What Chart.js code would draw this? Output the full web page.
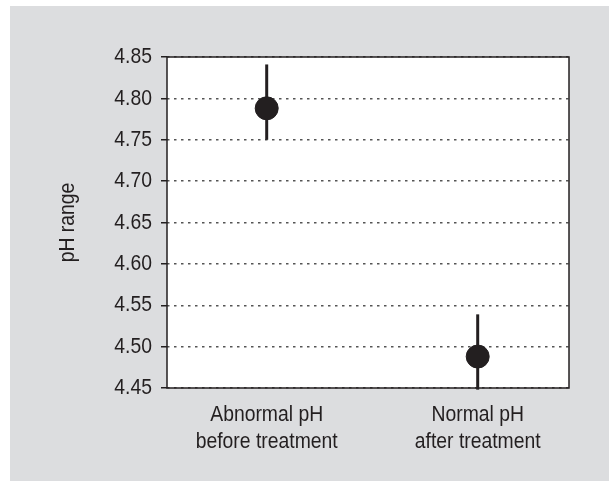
<!DOCTYPE html>
<html>
<head>
<meta charset="utf-8">
<script src="https://cdn.jsdelivr.net/npm/chart.js@4/dist/chart.umd.min.js"></script>
<style>
  html, body { margin: 0; padding: 0; background: #ffffff; }
  #wrap { position: absolute; left: 10px; top: 6px; width: 599px; height: 475px; background: #dcdddf; }
  canvas { display: block; }
</style>
</head>
<body>
<div id="wrap"><canvas id="c" width="599" height="475"></canvas></div>
<script>
// ---- data ----
const categories = [["Abnormal pH", "before treatment"], ["Normal pH", "after treatment"]];
const categoryIndex = [0, 1];
const meanPH = [4.788, 4.488];
const errLow = [4.750, 4.448];
const errHigh = [4.841, 4.539];
const yTicks = [4.45, 4.50, 4.55, 4.60, 4.65, 4.70, 4.75, 4.80, 4.85];
const yTitle = "pH range";

const INK = "#231f20";
const FONT = "'Liberation Sans', Arial, sans-serif";
const FONT_SIZE = 22.5;
const NARROW = 0.86; // horizontal condensing of text, to mimic a narrow sans face

const canvas = document.getElementById("c");
const ctx2d = canvas.getContext("2d");
// condensed text rendering: scale glyphs horizontally around their anchor
const origFill = ctx2d.fillText.bind(ctx2d);
const origMeasure = ctx2d.measureText.bind(ctx2d);
ctx2d.fillText = function (text, x, y, maxWidth) {
  this.save();
  this.translate(x, y);
  this.scale(NARROW, 1);
  if (maxWidth !== undefined) origFill(text, 0, 0, maxWidth / NARROW);
  else origFill(text, 0, 0);
  this.restore();
};
ctx2d.measureText = function (text) {
  const m = origMeasure(text);
  return {
    width: m.width * NARROW,
    actualBoundingBoxAscent: m.actualBoundingBoxAscent,
    actualBoundingBoxDescent: m.actualBoundingBoxDescent,
    actualBoundingBoxLeft: m.actualBoundingBoxLeft * NARROW,
    actualBoundingBoxRight: m.actualBoundingBoxRight * NARROW
  };
};

const errorBarPlugin = {
  id: "errorBars",
  beforeDatasetsDraw(chart) {
    const { ctx, scales: { x, y } } = chart;
    ctx.save();
    ctx.strokeStyle = INK;
    ctx.lineWidth = 3;
    categoryIndex.forEach((ci, i) => {
      const px = x.getPixelForValue(ci);
      ctx.beginPath();
      ctx.moveTo(px, y.getPixelForValue(errLow[i]));
      ctx.lineTo(px, y.getPixelForValue(errHigh[i]));
      ctx.stroke();
    });
    ctx.restore();
  }
};

const framePlugin = {
  id: "frame",
  beforeDraw(chart) {
    const { ctx, chartArea: a } = chart;
    ctx.save();
    ctx.fillStyle = "#ffffff";
    ctx.fillRect(a.left, a.top, a.right - a.left, a.bottom - a.top);
    ctx.restore();
  },
  afterDatasetsDraw(chart) {
    const { ctx, chartArea: a } = chart;
    ctx.save();
    ctx.strokeStyle = INK;
    ctx.lineWidth = 1.5;
    ctx.strokeRect(a.left, a.top, a.right - a.left, a.bottom - a.top);
    ctx.restore();
  }
};

new Chart(ctx2d, {
  type: "scatter",
  data: {
    datasets: [{
      data: categoryIndex.map((ci, i) => ({ x: ci, y: meanPH[i] })),
      backgroundColor: INK,
      borderColor: INK,
      pointRadius: 11.5,
      pointHoverRadius: 11.5
    }]
  },
  options: {
    responsive: false,
    animation: false,
    events: [],
    layout: { padding: { left: 40, top: 51, right: 40, bottom: 0 } },
    plugins: { legend: { display: false }, tooltip: { enabled: false } },
    scales: {
      x: {
        type: "linear",
        min: -0.4725,
        max: 1.4327,
        afterBuildTicks(s) { s.ticks = categoryIndex.map(v => ({ value: v })); },
        afterFit(s) { s.height = 93; s.paddingLeft = 0; s.paddingRight = 0; },
        grid: { display: false, drawTicks: false },
        border: { display: false },
        ticks: {
          padding: 14,
          color: INK,
          font: { family: FONT, size: FONT_SIZE, lineHeight: 1.18 },
          maxRotation: 0,
          callback: (v) => categories[categoryIndex.indexOf(v)] || ""
        }
      },
      y: {
        min: 4.45,
        max: 4.85,
        afterBuildTicks(s) { s.ticks = yTicks.map(v => ({ value: v })); },
        afterFit(s) { s.width = 117; s.paddingTop = 0; s.paddingBottom = 0; },
        grid: {
          color: "#555555",
          lineWidth: 1.5,
          drawTicks: true,
          tickLength: 6,
          tickColor: INK,
          tickWidth: 1.5,
          tickBorderDash: []
        },
        border: { display: false, dash: [2.5, 4.5] },
        ticks: {
          padding: 9,
          color: INK,
          font: { family: FONT, size: FONT_SIZE },
          callback: (v) => Number(v).toFixed(2)
        },
        title: {
          display: true,
          text: yTitle,
          color: INK,
          font: { family: FONT, size: FONT_SIZE, lineHeight: 1.2 },
          padding: { top: 4, bottom: 4 }
        }
      }
    }
  },
  plugins: [framePlugin, errorBarPlugin]
});
</script>
</body>
</html>
